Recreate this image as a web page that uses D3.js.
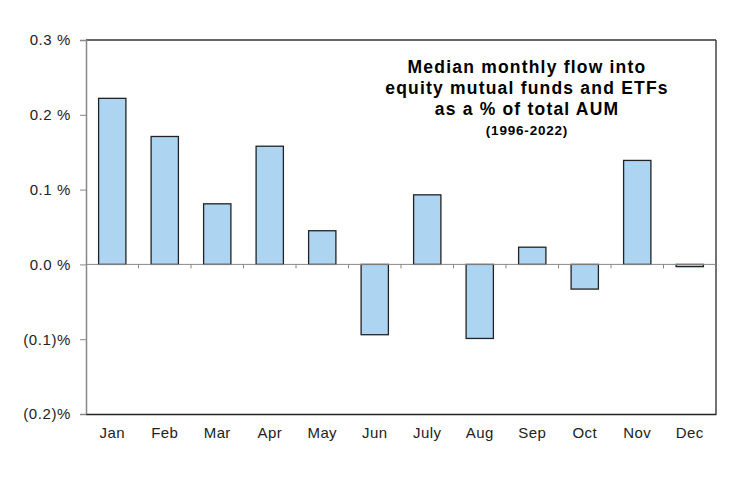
<!DOCTYPE html>
<meta charset="utf-8">
<html>
  <head>
    <style>
      body { margin: 0; background: #fff; }
      text { font-family: "Liberation Sans", Arial, sans-serif; }
    </style>
    <script src="https://d3js.org/d3.v7.min.js"></script>
  </head>
  <body>
<div id="chart"></div>
<script>

// data (in %)
var months = ["Jan", "Feb", "Mar", "Apr", "May", "Jun", "July", "Aug", "Sep", "Oct", "Nov", "Dec"];
var flows = [0.222, 0.171, 0.081, 0.158, 0.045, -0.094, 0.093, -0.099, 0.023, -0.033, 0.139, -0.003];
var yTicks = [0.3, 0.2, 0.1, 0.0, -0.1, -0.2];
var yTickLabels = ["0.3 %", "0.2 %", "0.1 %", "0.0 %", "(0.1)%", "(0.2)%"];

var margin = {top: 40, right: 36, bottom: 66, left: 86},
  width = 752 - margin.left - margin.right,
  height = 480 - margin.top - margin.bottom;

var svg = d3.select("#chart")
  .append("svg")
  .attr("width", 752)
  .attr("height", 480)
  .append("g")
  .attr("transform", "translate(" + margin.left + "," + margin.top + ")");

var x = d3.scaleBand()
  .range([0, width])
  .domain(months)
  .paddingInner(0.48)
  .paddingOuter(0.24);

var y = d3.scaleLinear()
  .domain([-0.2, 0.3])
  .range([height, 0]);

// frame: top and right dark, left and bottom grey
svg.append("line").attr("x1", 0).attr("x2", width).attr("y1", 0).attr("y2", 0)
  .attr("stroke", "#333").attr("stroke-width", 1.5);
svg.append("line").attr("x1", width).attr("x2", width).attr("y1", 0).attr("y2", height)
  .attr("stroke", "#444").attr("stroke-width", 1.5);

// bars
svg.selectAll(".bar")
  .data(flows)
  .enter()
  .append("rect")
  .attr("x", function(d, i) { return x(months[i]); })
  .attr("y", function(d) { return y(Math.max(0, d)); })
  .attr("width", x.bandwidth())
  .attr("height", function(d) { return Math.abs(y(d) - y(0)); })
  .attr("fill", "#add4f1")
  .attr("stroke", "#222")
  .attr("stroke-width", 1.3);

// zero line with category separator ticks
svg.append("line").attr("x1", 0).attr("x2", width).attr("y1", y(0)).attr("y2", y(0))
  .attr("stroke", "#888").attr("stroke-width", 1);
svg.selectAll(".sep")
  .data(months.slice(1))
  .enter()
  .append("line")
  .attr("x1", function(d) { return x(d) - x.step() * x.paddingInner() / 2; })
  .attr("x2", function(d) { return x(d) - x.step() * x.paddingInner() / 2; })
  .attr("y1", y(0))
  .attr("y2", y(0) + 4)
  .attr("stroke", "#888");

// y axis
var yAxis = svg.append("g")
  .call(d3.axisLeft(y).tickValues(yTicks).tickSize(6).tickPadding(9)
    .tickFormat(function(d, i) { return yTickLabels[i]; }));
yAxis.select(".domain").attr("stroke", "#888").attr("stroke-width", 1.5);
yAxis.selectAll(".tick line").attr("stroke", "#888");
yAxis.selectAll("text").style("font-size", "15px").style("letter-spacing", "0.6px").attr("fill", "#222");

// x axis (bottom line, labels only)
var xAxis = svg.append("g")
  .attr("transform", "translate(0," + height + ")")
  .call(d3.axisBottom(x).tickSize(0).tickPadding(13));
xAxis.select(".domain").attr("stroke", "#222").attr("stroke-width", 1.5);
xAxis.selectAll("text").style("font-size", "15px").style("letter-spacing", "0.4px").attr("fill", "#222");

// title
var cx = 441;
var title = svg.append("text")
  .attr("x", cx)
  .attr("text-anchor", "middle")
  .style("font-weight", "bold")
  .style("font-size", "17.5px")
  .style("letter-spacing", "1.2px")
  .attr("fill", "#000");
["Median monthly flow into", "equity mutual funds and ETFs", "as a % of total AUM"].forEach(function(t, i) {
  title.append("tspan").attr("x", cx).attr("y", 33 + i * 21).text(t);
});
svg.append("text")
  .attr("x", cx)
  .attr("y", 95)
  .attr("text-anchor", "middle")
  .style("font-weight", "bold")
  .style("font-size", "13.5px")
  .style("letter-spacing", "0.8px")
  .text("(1996-2022)");

</script>
</body>
</html>
